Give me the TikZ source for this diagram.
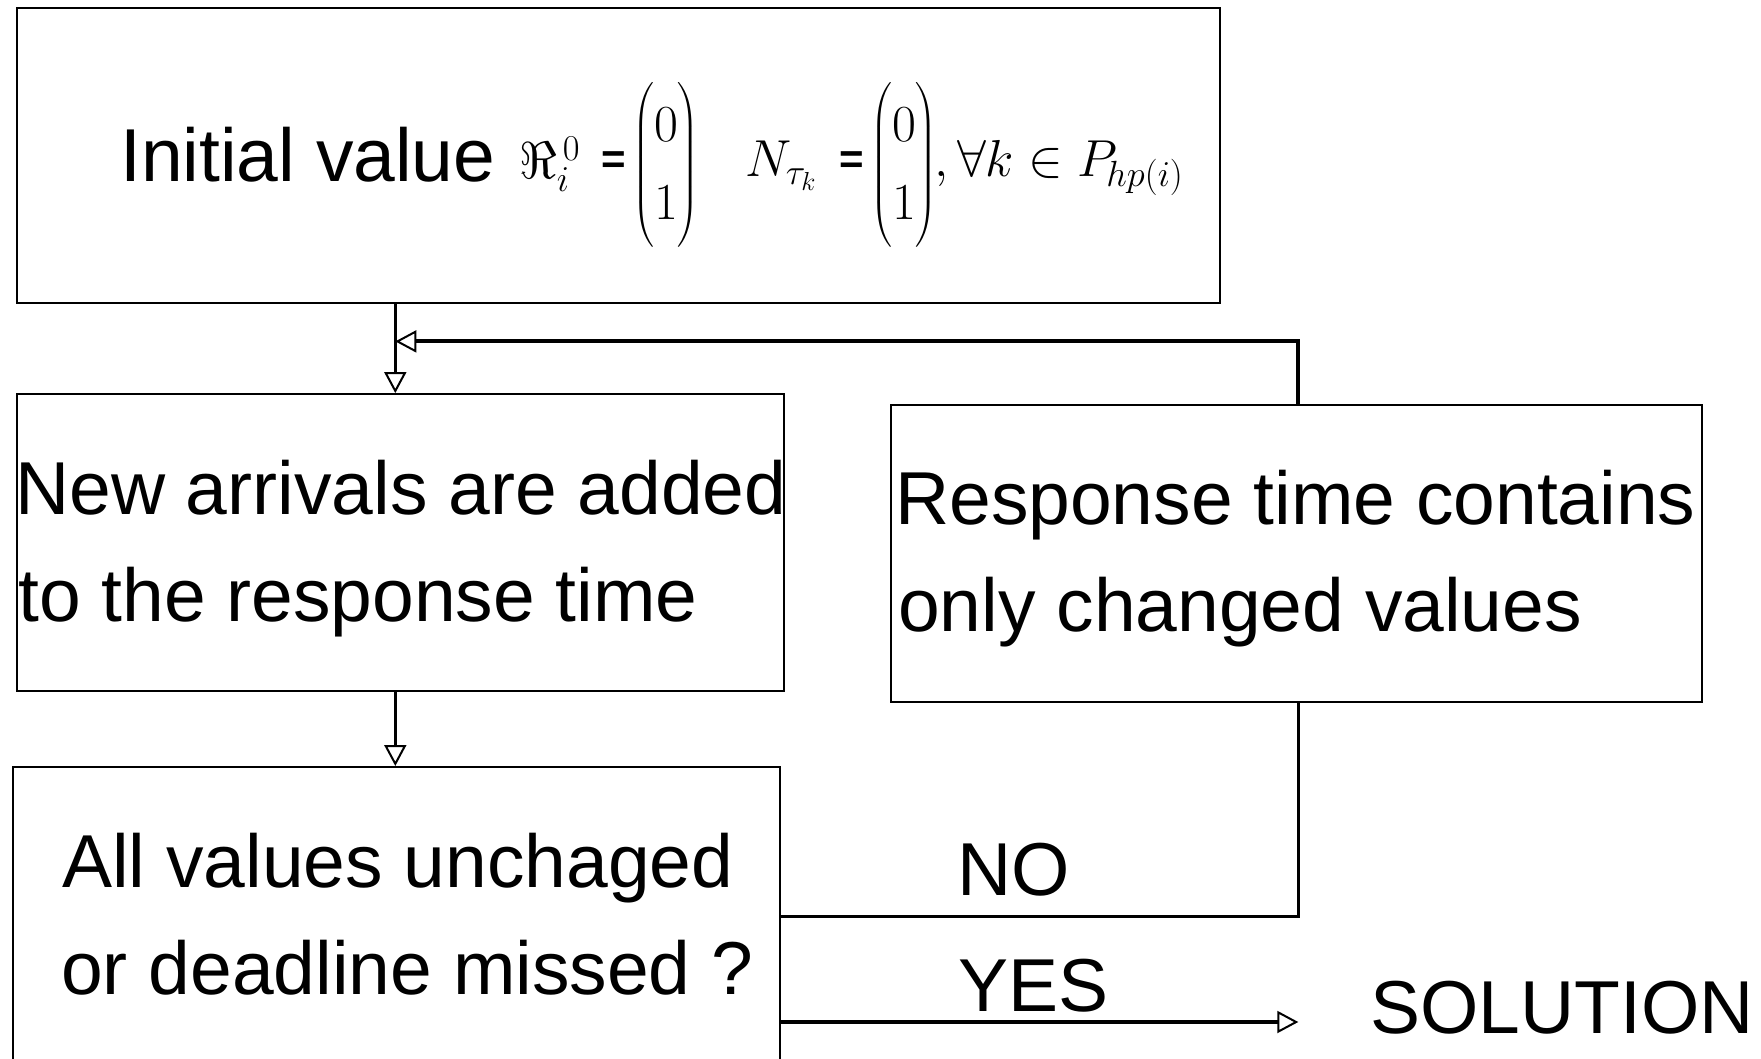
\RequirePackage{fix-cm}
\documentclass[tikz,border=0pt]{standalone}
\usepackage{amsmath}
\usepackage{fontspec}
\setmainfont{Liberation Sans}
\usetikzlibrary{arrows.meta}
% two-row column vector (0,1) used in the start values
\newcommand{\colvec}{\left(\renewcommand{\arraystretch}{1.25}\begin{matrix}0\\1\end{matrix}\right)}
\begin{document}
\begin{tikzpicture}[x=1pt,y=-1pt,
  box/.style={draw,line width=2pt,inner sep=0pt,anchor=north west},
  lbl/.style={anchor=base west,inner sep=0pt,font=\fontsize{75}{90}\selectfont},
  mth/.style={inner sep=0pt,font=\fontsize{52}{62}\selectfont},
  eqs/.style={inner sep=0pt,font=\fontsize{42}{42}\selectfont\bfseries},
  flow/.style={line width=3.5pt,-{Triangle[length=21pt,width=22pt,fill=white,line width=2pt]}},
  plain/.style={line width=3pt}]
\useasboundingbox (0,0) rectangle (1761,1059);

% boxes
\node[box,minimum width=1203pt,minimum height=295.4pt] (init) at (15.7,6.7) {};
\node[box,minimum width=767pt,minimum height=296.5pt] (arrive) at (15.7,393.1) {};
\node[box,minimum width=811pt,minimum height=296.5pt] (resp) at (889.5,404.3) {};
\node[box,minimum width=767pt,minimum height=310pt] (check) at (12.4,766) {};

% guide coordinates for the connector columns
\coordinate (spine) at (395.3,0);
\coordinate (loopx) at (1298.3,0);
\coordinate (fby) at (0,341.4);
\coordinate (noy) at (0,916.5);
\coordinate (yesy) at (0,1022);

% start values
\node[lbl] (t0) at (120,182) {Initial value};
\node[mth,anchor=base west] (re) at (519,179) {$\Re_i^{\,0}$};
\node[eqs] (eq1) at (614,163) {=};
\node[mth] (m1) at (666,165) {$\colvec$};
\node[mth,anchor=base west] (nt) at (745,177) {$N_{\tau_k}$};
\node[eqs] (eq2) at (852,163) {=};
\node[mth] (m2) at (904,165) {$\colvec$};
\node[mth,anchor=base west] (tail) at (934,177) {$,\forall k\in P_{\mkern-2mu hp(i)}$};

% box texts
\node[lbl] (a1) at (15,514) {New arrivals are added};
\node[lbl] (a2) at (18,621) {to the response time};
\node[lbl] (r1) at (895,524) {Response time contains};
\node[lbl] (r2) at (898,631) {only changed values};
\node[lbl] (c1) at (62,887) {All values unchaged};
\node[lbl] (c2) at (61,994) {or deadline missed ?};
\node[lbl] (no) at (957,895) {NO};
\node[lbl] (yes) at (958,1011) {YES};
\node[lbl] (sol) at (1370,1033) {SOLUTION};

% connectors
\draw[flow] (init.south -| spine) -- (arrive.north -| spine);
\draw[flow,line width=4pt] (resp.north -| loopx) |- (spine |- fby);
\draw[flow] (arrive.south -| spine) -- (check.north -| spine);
\draw[plain] (check.east |- noy) -| (resp.south -| loopx);
\draw[flow,line width=4pt] (check.east |- yesy) -- (loopx |- yesy);
\end{tikzpicture}
\end{document}
